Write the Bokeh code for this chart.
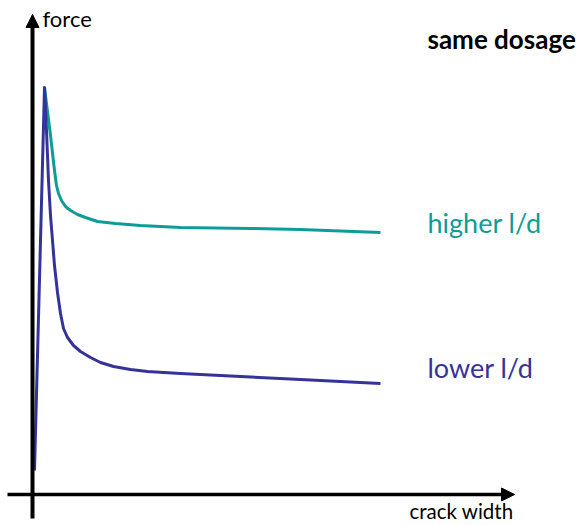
from bokeh.plotting import figure
from bokeh.models import Range1d, Arrow, NormalHead, Label
from bokeh.embed import file_html
from bokeh.resources import INLINE

# data (arbitrary units: crack width / force)
higher_x = [12, 18, 22, 24, 26, 29, 33, 38, 45, 53, 65, 83, 108, 148, 218, 268, 348]
higher_y = [407, 359, 324, 309, 301, 294, 288, 284, 280, 277, 273, 271, 269, 267, 266, 265, 262]

lower_x = [2, 12, 14, 16, 18, 20, 22, 25, 28, 31, 35, 41, 48, 58, 68, 81, 98, 115, 148, 208, 268, 348]
lower_y = [24, 407, 364, 314, 279, 254, 229, 202, 181, 166, 157, 149, 143, 137, 132, 128, 125, 123, 121, 118, 115, 111]

TEAL = "#0e9c98"
BLUE = "#353399"
FONT = "Lato"

p = figure(width=583, height=525, output_backend="svg", toolbar_location=None,
           x_range=Range1d(-32, 551), y_range=Range1d(-31, 494),
           min_border=0, outline_line_color=None)
p.axis.visible = False
p.grid.visible = False

# axes with arrows
p.add_layout(Arrow(x_start=-25, y_start=0, x_end=482, y_end=0, line_width=3.5,
                   line_color="black",
                   end=NormalHead(size=13, fill_color="black", line_color="black")))
p.add_layout(Arrow(x_start=0, y_start=-24, x_end=0, y_end=480, line_width=4,
                   line_color="black",
                   end=NormalHead(size=13, fill_color="black", line_color="black")))

p.line(higher_x, higher_y, line_color=TEAL, line_width=3, line_join="round")
p.line(lower_x, lower_y, line_color=BLUE, line_width=3, line_join="round")

p.add_layout(Label(x=10, y=476, text="force", text_font=FONT, text_font_size="22px",
                   text_color="black", text_baseline="alphabetic"))
p.add_layout(Label(x=377, y=-16, text="crack width", text_font=FONT, text_font_size="20.5px",
                   text_color="black", text_baseline="alphabetic"))
p.add_layout(Label(x=395, y=456, text="same dosage", text_font=FONT, text_font_size="26px",
                   text_font_style="bold", text_color="black", text_baseline="alphabetic"))
p.add_layout(Label(x=395, y=272, text="higher l/d", text_font=FONT, text_font_size="27px",
                   text_color=TEAL, text_baseline="alphabetic"))
p.add_layout(Label(x=395, y=127, text="lower l/d", text_font=FONT, text_font_size="27px",
                   text_color=BLUE, text_baseline="alphabetic"))

open("out.html", "w").write(file_html(p, INLINE))
